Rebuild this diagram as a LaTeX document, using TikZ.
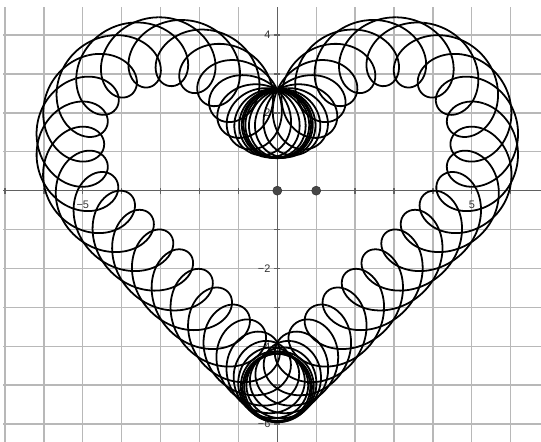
\documentclass[tikz,border=0pt]{standalone}
\usepackage{fontspec}
\setmainfont{Liberation Sans}
\usepackage{tikz}
\usetikzlibrary{positioning}

\begin{document}
\begin{tikzpicture}[x=1cm, y=1cm, font=\footnotesize,
    gridline/.style={black!28, line width=1pt},
    axisline/.style={black!62, line width=1pt},
    heartline/.style={black, line width=1.3pt, line join=round},
    dot/.style={circle, fill=black!72, draw=black!80, inner sep=0pt, minimum size=6.6pt},
    ticklabel/.style={text=black!80, inner sep=0pt},
    % arc length along the right half (dip -> bottom), slow near both ends
    declare function={sarc(\t)=0.087894*\t-1.5436*sin(2*\t)-0.3865*sin(4*\t);
      cxr(\s)=(\s<0.998) ? 0.885*cos(-90+64.741*\s) :
        ((\s<9.290) ? 2.95+2.38*cos(154.61-24.074*(\s-0.998)) :
        ((\s<15.742) ? 4.633-0.7071*(\s-9.290) : 0.1*cos(-45-572.958*(\s-15.742))));
      cyr(\s)=(\s<0.998) ? 2.6+0.885*sin(-90+64.741*\s) :
        ((\s<9.290) ? 1.2+2.38*sin(154.61-24.074*(\s-0.998)) :
        ((\s<15.742) ? -0.483-0.7071*(\s-9.290) : -4.974+0.1*sin(-45-572.958*(\s-15.742))));
      tred(\T)=180-abs(180-mod(\T,360));
      sgnx(\T)=(mod(\T,360)<=180) ? 1 : -1;
      hx(\T)=sgnx(\T)*cxr(sarc(tred(\T)));
      hy(\T)=cyr(sarc(tred(\T)));}]
  \useasboundingbox (-7.129,-6.460) rectangle (6.779,4.902);
  % ---------------- grid and axes
  \begin{scope}
    \clip (-7.05,-6.46) rectangle (6.779,4.72);
    \foreach \x in {-7,...,6} \draw[gridline] (\x,-6.6) -- (\x,4.8);
    \foreach \y in {-6,...,4} \draw[gridline] (-7.2,\y) -- (6.9,\y);
    \draw[axisline] (-7.2,0) -- (6.9,0);
    \draw[axisline] (0,-6.6) -- (0,4.8);
    \foreach \x in {-7,...,6} \draw[axisline] (\x,-0.08) -- (\x,0.08);
    \foreach \y in {-6,...,4} \draw[axisline] (-0.08,\y) -- (0.08,\y);
  \end{scope}
  % ---------------- tick labels
  \node[ticklabel] (xm5) at (-5,-0.37) {−5};
  \node[ticklabel] (xp5) at (5,-0.37) {5};
  \foreach \y/\lab in {4/4, 2/2, -2/−2, -4/−4, -6/−6}
    \node[ticklabel, anchor=east] (y\y) at (-0.17,\y) {\lab};
  % ---------------- heart traced three times, 64 loops (one loop per segment)
  \def\nloop{64}
  \foreach \k in {0,...,63} {
    \pgfmathsetmacro{\tk}{\k/\nloop*1080}
    \draw[heartline] plot[variable=\u, domain=0:360, samples=49, smooth]
      ({hx(\tk+3*\u/\nloop)+0.88*sin(\u)}, {hy(\tk+3*\u/\nloop)+0.88*cos(\u)});
  }
  % ---------------- points
  \node[dot] (O) at (0,0) {};
  \node[dot] (A) at (1,0) {};
\end{tikzpicture}
\end{document}
